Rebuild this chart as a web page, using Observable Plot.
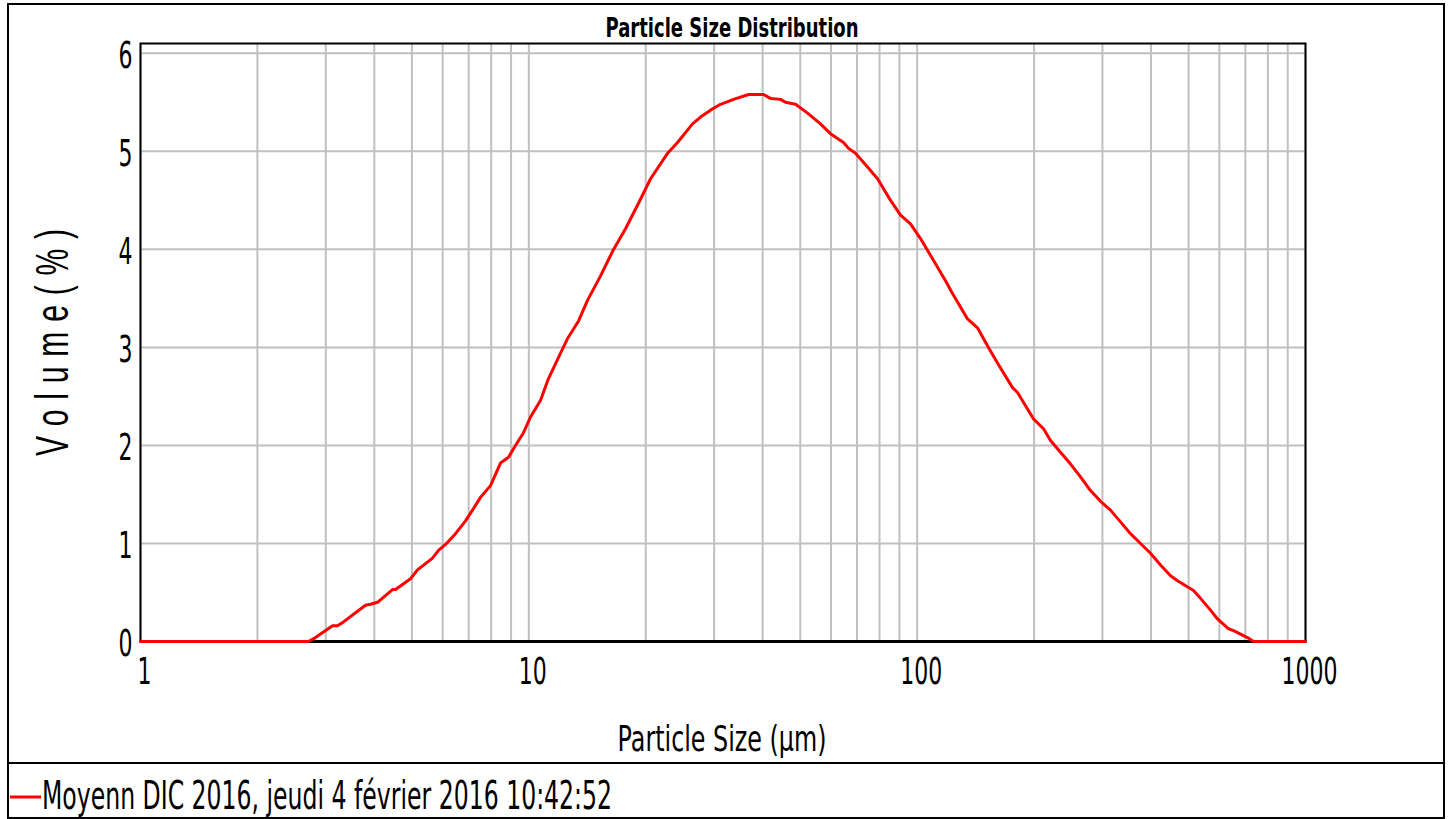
<!DOCTYPE html>
<html>
<head>
<meta charset="utf-8">
<script src="https://cdn.jsdelivr.net/npm/d3@7"></script>
<script src="https://cdn.jsdelivr.net/npm/@observablehq/plot@0.6"></script>
<style>
  html, body { margin: 0; padding: 0; background: #fff; }
  #wrap { position: relative; width: 1449px; height: 819px; overflow: hidden; background: #fff; }
  #chart { position: absolute; left: 0; top: 0; }
  #border { position: absolute; left: 7px; top: 3px; width: 1434px; height: 812px; border: 2px solid #000; pointer-events: none; }
  #sep { position: absolute; left: 8px; top: 762px; width: 1435px; height: 2px; background: #000; }
  #legend { position: absolute; left: 0; top: 763px; }
</style>
</head>
<body>
<div id="wrap">
  <div id="chart"></div>
  <div id="sep"></div>
  <svg id="legend" width="1449" height="56"></svg>
  <div id="border"></div>
</div>
<script>
const chartTitle = "Particle Size Distribution";
const xLabel = "Particle Size (μm)";
const yLabel = "V o l u m e ( % )";
const legendLabel = "Moyenn DIC 2016, jeudi 4 février 2016 10:42:52";

const xTicks = [1, 10, 100, 1000];
const yTicks = [0, 1, 2, 3, 4, 5, 6];
const xGrid = [1,2,3,4,5,6,7,8,9,10,20,30,40,50,60,70,80,90,100,200,300,400,500,600,700,800,900,1000];

const sizes = [1, 1.3, 1.7, 2.2, 2.708, 2.822, 3.122, 3.216, 3.332, 3.796, 3.912, 4.077, 4.456, 4.536, 4.958, 5.168, 5.648, 5.853, 6.101, 6.475, 6.870, 7.161, 7.508, 7.967, 8.453, 8.864, 9.240, 9.689, 10.10, 10.72, 11.23, 12.06, 12.58, 13.43, 14.16, 15.30, 16.43, 17.74, 19.16, 20.58, 22.76, 24.15, 26.39, 27.68, 29.36, 31.16, 33.66, 36.80, 40.22, 41.91, 44.48, 45.82, 48.62, 52.20, 56.37, 59.81, 64.62, 66.57, 69.38, 74.49, 79.06, 85.39, 90.61, 96.12, 102.0, 108.2, 118.3, 123.3, 134.8, 143.0, 152.6, 161.0, 176.0, 181.3, 199.4, 211.5, 220.5, 233.9, 248.3, 263.4, 279.5, 296.6, 314.7, 333.9, 354.3, 376.0, 398.9, 423.3, 449.2, 468.2, 514.8, 536.6, 569.4, 593.5, 633.5, 652.6, 709.0, 734.8, 800, 900, 1000];
const volumes = [0, 0, 0, 0, 0, 0.04, 0.16, 0.16, 0.20, 0.37, 0.38, 0.40, 0.53, 0.53, 0.64, 0.73, 0.85, 0.93, 0.99, 1.10, 1.23, 1.34, 1.47, 1.59, 1.82, 1.88, 2.00, 2.13, 2.29, 2.46, 2.68, 2.94, 3.09, 3.27, 3.48, 3.73, 3.98, 4.21, 4.47, 4.72, 4.98, 5.09, 5.28, 5.35, 5.42, 5.48, 5.53, 5.58, 5.58, 5.54, 5.53, 5.50, 5.48, 5.39, 5.28, 5.18, 5.09, 5.03, 4.98, 4.84, 4.72, 4.50, 4.35, 4.26, 4.11, 3.94, 3.68, 3.55, 3.29, 3.20, 3.00, 2.84, 2.59, 2.54, 2.27, 2.17, 2.05, 1.93, 1.81, 1.68, 1.54, 1.43, 1.34, 1.22, 1.10, 1.00, 0.90, 0.78, 0.67, 0.62, 0.52, 0.44, 0.32, 0.23, 0.13, 0.11, 0.04, 0, 0, 0, 0];

const data = sizes.map((s, i) => ({size: s, volume: volumes[i]}));

const tickFont = "DejaVu Sans, Verdana, sans-serif";

const svg = Plot.plot({
  width: 1449,
  height: 763,
  marginLeft: 140,
  marginRight: 144,
  marginTop: 43,
  marginBottom: 122,
  style: {background: "#fff", color: "#000", fontFamily: tickFont},
  x: {type: "log", domain: [1, 1000]},
  y: {domain: [0, 6.1]},
  marks: [
    Plot.ruleX(xGrid, {stroke: "#c0c0c0", strokeWidth: 2}),
    Plot.ruleY(yTicks, {stroke: "#c0c0c0", strokeWidth: 2}),
    Plot.frame({stroke: "#000", strokeWidth: 2}),
    Plot.ruleY([0], {stroke: "#000", strokeWidth: 3}),
    Plot.line(data, {x: "size", y: "volume", stroke: "#ff0000", strokeWidth: 3, curve: "linear"}),
    Plot.axisX({ticks: xTicks, tickFormat: d => String(d), tickSize: 0, tickPadding: 16, dx: 4, label: null, fontSize: 37, fontFamily: tickFont, fill: "#000"}),
    Plot.axisY({ticks: yTicks, tickFormat: d => String(d), tickSize: 0, tickPadding: 8, dy: 3, label: null, fontSize: 37, fontFamily: tickFont, fill: "#000"}),
    Plot.text([chartTitle], {frameAnchor: "top", textAnchor: "middle", lineAnchor: "middle", text: d => d, dx: 9, dy: -15, fontSize: 26, fontWeight: "bold", fontFamily: tickFont, fill: "#000"}),
    Plot.text([xLabel], {frameAnchor: "bottom", textAnchor: "middle", lineAnchor: "middle", text: d => d, dx: -1, dy: 98, fontSize: 35, fontFamily: tickFont, fill: "#000"}),
    Plot.text([yLabel], {frameAnchor: "left", textAnchor: "middle", lineAnchor: "middle", text: d => d, rotate: -90, dx: -88, dy: 0, fontSize: 47, fontFamily: "Liberation Sans, Arial, sans-serif", fill: "#000"})
  ]
});

document.getElementById("chart").appendChild(svg);

// compress text horizontally to match the narrow typeface of the original
svg.querySelectorAll('g[aria-label="x-axis tick label"] text, g[aria-label="y-axis tick label"] text').forEach(t => {
  t.setAttribute("textLength", t.textContent.length * 14);
  t.setAttribute("lengthAdjust", "spacingAndGlyphs");
});
const widths = {};
widths[chartTitle] = 253;
widths[xLabel] = 209;
svg.querySelectorAll("text").forEach(t => {
  const w = widths[t.textContent];
  if (w) {
    t.setAttribute("textLength", w);
    t.setAttribute("lengthAdjust", "spacingAndGlyphs");
  }
  if (t.textContent === yLabel) {
    const s = 0.64;
    const tr = t.getAttribute("transform") || "";
    t.setAttribute("transform", tr + ` scale(${s},1)`);
    t.setAttribute("textLength", 227 / s);
    t.setAttribute("lengthAdjust", "spacing");
  }
});

// legend
const lg = d3.select("#legend");
lg.append("line").attr("x1", 10).attr("x2", 41).attr("y1", 34).attr("y2", 34)
  .attr("stroke", "#ff0000").attr("stroke-width", 3);
lg.append("text").attr("x", 42).attr("y", 46)
  .attr("font-family", tickFont).attr("font-size", 39).attr("fill", "#000")
  .attr("textLength", 570).attr("lengthAdjust", "spacingAndGlyphs")
  .text(legendLabel);
</script>
</body>
</html>
